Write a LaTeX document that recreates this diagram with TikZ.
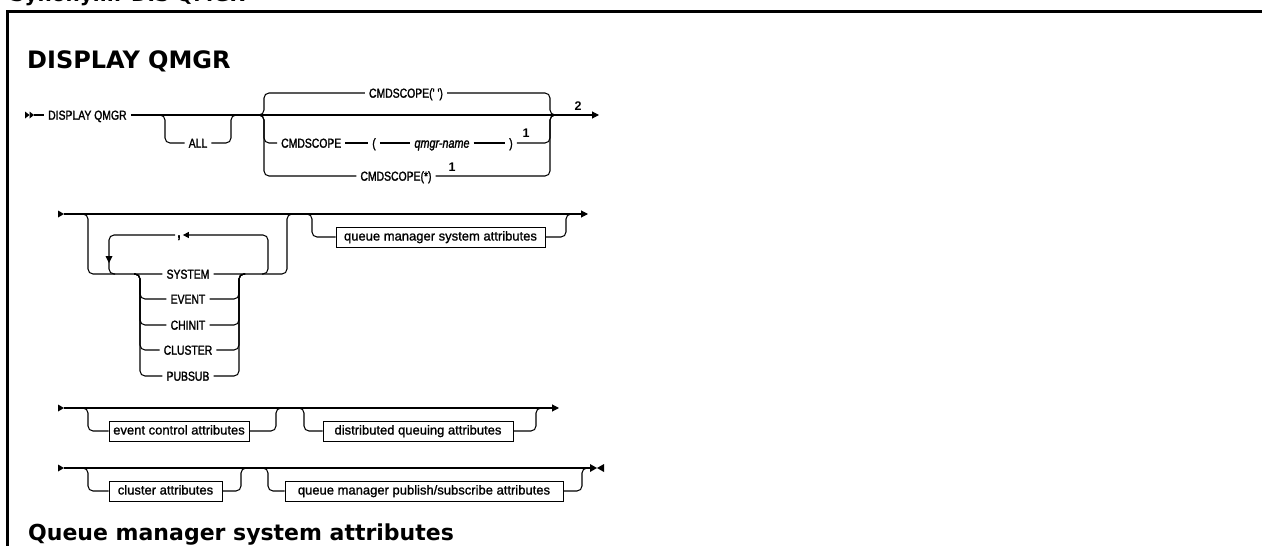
\documentclass[tikz,border=0pt]{standalone}
\usepackage{fontspec}
\setmainfont{Liberation Sans}
\newfontfamily\kwfont[FakeStretch=0.8,FakeBold=1.6]{Liberation Sans}
\newfontfamily\boxfont[FakeBold=1.2]{Liberation Sans}
\newfontfamily\hdfont{DejaVu Sans}
\usetikzlibrary{arrows.meta}
\tikzset{
  ln/.style={line width=1.05pt, draw=black},
  rc/.style={ln, rounded corners=5pt},
  kw/.style={inner xsep=4pt, inner ysep=0pt, text height=9.4pt, text depth=0pt,
             font=\kwfont\fontsize{13}{13}\selectfont},
  kwi/.style={kw, font=\kwfont\itshape\fontsize{13.5}{13}\selectfont},
  attr/.style={draw=black, line width=1pt, inner xsep=4pt, inner ysep=0pt,
               text height=9.5pt, text depth=2.5pt, minimum height=20pt,
               minimum width=#1, font=\boxfont\fontsize{13}{13}\selectfont},
  fn/.style={inner sep=0pt, font=\bfseries\fontsize{12.5}{12}\selectfont},
  hd/.style={anchor=base west, inner sep=0pt, font=\hdfont\bfseries\fontsize{22}{22}\selectfont},
  tip/.style={-{Triangle[length=7pt,width=7pt]}},
  tri/.style={fill=black, draw=none}
}
\begin{document}
\begin{tikzpicture}[x=1pt,y=-1pt]
\useasboundingbox (0,0) rectangle (1262,546);
\fill[white] (0,0) rectangle (1262,546);

% headings and frame
\node[hd, font=\hdfont\bfseries\fontsize{20}{20}\selectfont] (syn) at (10,1.5) {Synonym: DIS QMGR};
\draw[line width=2.7pt, line join=miter] (7.3,546) -- (7.3,11.3) -- (1262,11.3);
\node[hd, font=\hdfont\bfseries\fontsize{24}{24}\selectfont] (title) at (27,68) {DISPLAY QMGR};
\node[hd] (qh) at (28,540) {Queue manager system attributes};

% ---------------- row 1 ----------------
\fill[tri] (25,111.5) -- (29.5,115) -- (25,118.5) -- cycle;
\fill[tri] (29.5,111.5) -- (34,115) -- (29.5,118.5) -- cycle;
\coordinate (r1s) at (34,115);
\node[kw, anchor=west] (dq) at (44,115) {DISPLAY QMGR};
\coordinate (r1e) at (599,115);
\draw[ln] (r1s) -- (dq.west);
\draw[ln, tip] (dq.east) -- (r1e);

% ALL
\node[kw] (all) at (198,143) {ALL};
\draw[rc] (159,115) -- (165,115) -- (165,143) -- (all.west);
\draw[rc] (all.east) -- (231,143) -- (231,115) -- (237,115);

% CMDSCOPE choice
\node[kw] (cs0) at (406,93) {CMDSCOPE(' ')};
\draw[rc] (258,115) -- (264,115) -- (264,93) -- (cs0.west);
\draw[rc] (cs0.east) -- (550,93) -- (550,115) -- (556,115);

\node[kw, anchor=west] (cmd) at (277,143) {CMDSCOPE};
\node[kw] (lp) at (374,143) {(};
\node[kwi] (qn) at (442,143) {qmgr-name};
\node[kw] (rp) at (511,143) {)};
\node[fn] (f1a) at (526,133) {1};
\draw[rc] (258,115) -- (264,115) -- (264,143) -- (cmd.west);
\draw[ln] (cmd) -- (lp);
\draw[ln] (lp) -- (qn);
\draw[ln] (qn) -- (rp);
\draw[rc] (rp.east) -- (550,143) -- (550,115) -- (556,115);

\node[kw] (cs2) at (396,176) {CMDSCOPE(*)};
\node[fn] (f1b) at (452,167) {1};
\draw[rc] (258,115) -- (264,115) -- (264,176) -- (cs2.west);
\draw[rc] (cs2.east) -- (550,176) -- (550,115) -- (556,115);

\node[fn] (f2) at (578,106) {2};

% ---------------- row 2 ----------------
\fill[tri] (58,210.5) -- (64,214) -- (58,217.5) -- cycle;
\coordinate (r2s) at (64,214);
\coordinate (r2e) at (588,214);
\draw[ln, tip] (r2s) -- (r2e);

\node[kw] (sys) at (188,274) {SYSTEM};
\node[kw] (ev)  at (188,299) {EVENT};
\node[kw] (chi) at (188,325) {CHINIT};
\node[kw] (clu) at (188,350) {CLUSTER};
\node[kw] (pub) at (188,376) {PUBSUB};

\draw[rc] (82,214) -- (88,214) -- (88,274) -- (sys.west);
\draw[rc] (sys.east) -- (287,274) -- (287,214) -- (293,214);

% repeat loop
\node[kw, inner xsep=2pt, font=\kwfont\bfseries\fontsize{15}{15}\selectfont] (cm) at (179,233) {,};
\draw[rc, -{Triangle[length=6pt,width=6pt]}] (262,274) -- (268,274) -- (268,235) -- (cm.east |- 0,235);
\draw[rc] (cm.west |- 0,235) -- (109,235) -- (109,274) -- (115,274);
\fill[tri] (105.5,256) -- (112.5,256) -- (109,263) -- cycle;

% choices
\foreach \n in {ev,chi,clu,pub}{
  \draw[rc] (134,274) -- (140,274) -- (140,0 |- \n) -- (\n.west);
  \draw[rc] (\n.east) -- (239,0 |- \n) -- (239,274) -- (245,274);
}

% queue manager system attributes
\node[attr=209pt] (qmsa) at (440.5,237) {queue manager system attributes};
\draw[rc] (306,214) -- (312,214) -- (312,237) -- (qmsa.west);
\draw[rc] (qmsa.east) -- (566,237) -- (566,214) -- (572,214);

% ---------------- row 3 ----------------
\fill[tri] (58,404.5) -- (64,408) -- (58,411.5) -- cycle;
\coordinate (r3s) at (64,408);
\coordinate (r3e) at (559,408);
\draw[ln, tip] (r3s) -- (r3e);

\node[attr=140pt] (eca) at (179,431) {event control attributes};
\draw[rc] (82,408) -- (88,408) -- (88,431) -- (eca.west);
\draw[rc] (eca.east) -- (276,431) -- (276,408) -- (282,408);

\node[attr=190pt] (dqa) at (418,431) {distributed queuing attributes};
\draw[rc] (298,408) -- (304,408) -- (304,431) -- (dqa.west);
\draw[rc] (dqa.east) -- (536,431) -- (536,408) -- (542,408);

% ---------------- row 4 ----------------
\fill[tri] (58,464.5) -- (64,468) -- (58,471.5) -- cycle;
\coordinate (r4s) at (64,468);
\coordinate (r4e) at (590,468);
\draw[ln] (r4s) -- (r4e);
\fill[tri] (590,464) -- (597,468) -- (590,472) -- cycle;
\fill[tri] (604,464) -- (597,468) -- (604,472) -- cycle;

\node[attr=113pt] (ca) at (165.5,491) {cluster attributes};
\draw[rc] (82,468) -- (88,468) -- (88,491) -- (ca.west);
\draw[rc] (ca.east) -- (241,491) -- (241,468) -- (247,468);

\node[attr=278pt] (qmpsa) at (424,491) {queue manager publish/subscribe attributes};
\draw[rc] (262,468) -- (268,468) -- (268,491) -- (qmpsa.west);
\draw[rc] (qmpsa.east) -- (582,491) -- (582,468) -- (588,468);
\end{tikzpicture}
\end{document}
